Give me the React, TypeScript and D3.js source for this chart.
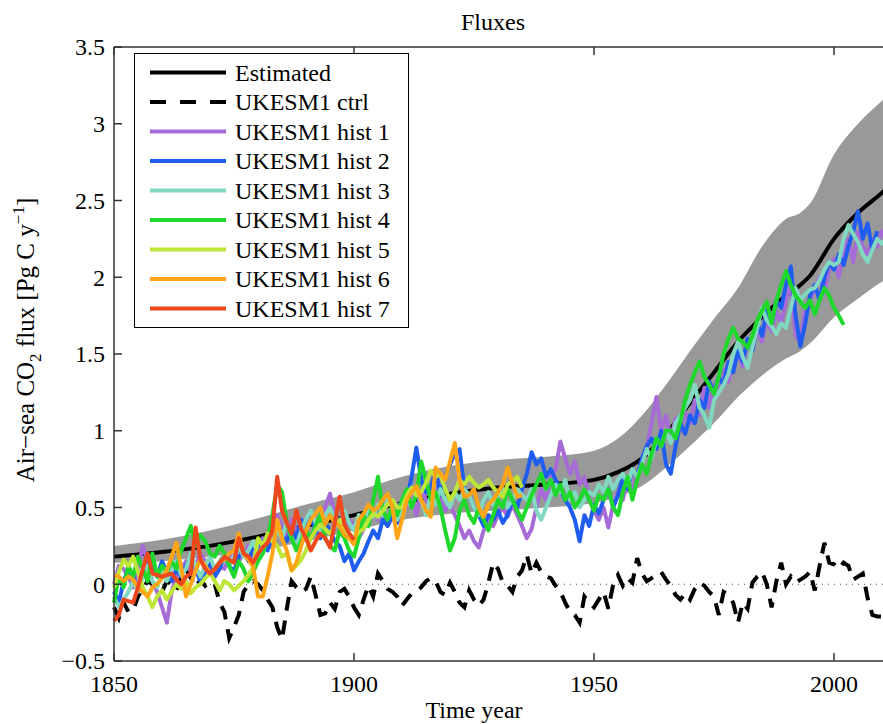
import React, { useRef, useEffect } from "react";
import * as d3 from "d3";

// smooth "Estimated" curve and its uncertainty band
const estYears = [1850, 1860, 1870, 1880, 1890, 1900, 1910, 1920, 1930, 1940, 1950, 1955, 1960, 1965, 1970, 1975, 1980, 1985, 1990, 1993, 1995, 2000, 2005, 2010, 2015];
const estMean = [0.18, 0.21, 0.25, 0.31, 0.38, 0.45, 0.53, 0.59, 0.63, 0.65, 0.68, 0.73, 0.82, 0.98, 1.18, 1.38, 1.58, 1.74, 1.88, 1.95, 2.01, 2.25, 2.42, 2.55, 2.7];
const estLow = [0.14, 0.15, 0.18, 0.22, 0.28, 0.35, 0.42, 0.46, 0.48, 0.5, 0.53, 0.57, 0.64, 0.76, 0.9, 1.05, 1.22, 1.36, 1.47, 1.52, 1.57, 1.74, 1.86, 1.97, 2.05];
const estHigh = [0.25, 0.29, 0.35, 0.43, 0.52, 0.6, 0.7, 0.77, 0.81, 0.83, 0.87, 0.95, 1.1, 1.3, 1.52, 1.73, 1.93, 2.2, 2.38, 2.42, 2.48, 2.8, 3.0, 3.15, 3.3];

// annual series, all starting in 1850
const startYear = 1850;
const ctrl = [
  -0.15, -0.22, -0.12, -0.18, -0.17, -0.08, -0.03, 0.02, 0.0, -0.03,
  -0.05, 0.02, 0.0, -0.04, 0.05, 0.1, 0.04, -0.02, 0.03, -0.01,
  0.02, 0.0, -0.12, -0.18, -0.35, -0.28, -0.2, -0.05, 0.0, 0.02,
  0.0, -0.04, -0.1, -0.15, -0.28, -0.36, -0.16, 0.02, -0.02, -0.05,
  -0.03, 0.05, -0.07, -0.2, -0.19, -0.12, -0.16, -0.05, -0.03, -0.08,
  -0.15, -0.2, -0.1, -0.01, -0.08, 0.07, 0.02, -0.03, -0.05, -0.08,
  -0.14, -0.1, -0.06, -0.04, -0.02, 0.02, 0.04, 0.02, -0.05, -0.07,
  0.01, -0.05, -0.12, -0.15, -0.04, -0.1, -0.14, -0.1, 0.01, 0.14,
  0.1, 0.01, -0.01, -0.05, 0.05, 0.09, 0.19, 0.07, 0.14, 0.08,
  0.05, 0.04, -0.01, -0.05, -0.12, -0.18, -0.2, -0.25, -0.08, -0.12,
  -0.15, -0.1, -0.05, -0.16, 0.0, 0.06, -0.01, 0.04, 0.01, 0.17,
  0.07, 0.02, 0.04, 0.06, 0.08, 0.03, -0.01, -0.07, -0.1, -0.06,
  -0.1, -0.03, 0.01, -0.01, -0.05, -0.08, -0.2, -0.05, -0.07, -0.12,
  -0.25, -0.12, -0.16, 0.01, 0.05, 0.08, 0.0, -0.15, 0.02, 0.14,
  0.0, 0.05, 0.01, 0.03, 0.05, 0.08, -0.04, 0.12, 0.27, 0.14,
  0.13, 0.1, 0.14, 0.12, 0.03, 0.05, 0.07, -0.09, -0.2, -0.21,
  -0.21, -0.2,
];
const hist1 = [
  0.0, 0.12, 0.1, 0.05, -0.02, 0.1, 0.25, 0.15, 0.02, -0.05,
  -0.15, -0.25, -0.05, 0.05, 0.1, 0.15, 0.08, 0.12, 0.2, 0.15,
  0.1, 0.05, 0.12, 0.1, 0.18, 0.22, 0.15, 0.2, 0.25, 0.18,
  0.22, 0.3, 0.25, 0.35, 0.45, 0.38, 0.3, 0.42, 0.35, 0.3,
  0.38, 0.44, 0.36, 0.4, 0.5, 0.59, 0.45, 0.4, 0.35, 0.42,
  0.38, 0.3, 0.36, 0.45, 0.5, 0.42, 0.48, 0.38, 0.44, 0.52,
  0.48, 0.5, 0.58, 0.45, 0.62, 0.55, 0.5, 0.62, 0.55, 0.48,
  0.52, 0.45, 0.38, 0.3, 0.35, 0.28, 0.24, 0.35, 0.42, 0.38,
  0.45, 0.5, 0.44, 0.52, 0.45, 0.38, 0.3, 0.36, 0.5, 0.62,
  0.55, 0.7, 0.75, 0.93, 0.82, 0.72, 0.8, 0.65, 0.7, 0.55,
  0.48, 0.42, 0.5, 0.37, 0.52, 0.6, 0.55, 0.68, 0.6, 0.72,
  0.8, 0.9, 1.05, 1.22, 1.0, 1.1, 0.95, 1.08, 1.0, 1.12,
  1.05, 1.2, 1.1, 1.28, 1.15, 1.3, 1.25, 1.4, 1.32, 1.45,
  1.5, 1.42, 1.6, 1.55, 1.65, 1.58, 1.72, 1.65, 1.78, 1.7,
  1.85, 1.95, 1.62, 1.58, 1.8, 1.85, 1.92, 2.0, 1.9, 2.05,
  2.12, 2.0, 2.18, 2.25, 2.1, 2.3, 2.2, 2.15, 2.25, 2.2,
  2.3, 2.28,
];
const hist2 = [
  -0.05, -0.12, 0.02, 0.1, 0.05, -0.02, 0.08, 0.18, 0.12, 0.05,
  0.15, 0.08, 0.02, 0.1, 0.05, 0.12, 0.18, 0.1, 0.02, 0.08,
  0.15, 0.05, 0.1, 0.18, 0.12, 0.08, 0.18, 0.22, 0.15, 0.25,
  0.2, 0.28, 0.22, 0.3, 0.38, 0.32, 0.28, 0.36, 0.3, 0.42,
  0.38, 0.45, 0.35, 0.3, 0.4, 0.35, 0.28, 0.25, 0.15, 0.2,
  0.09, 0.15, 0.2, 0.28, 0.35, 0.3, 0.42, 0.38, 0.45, 0.4,
  0.48, 0.55, 0.7, 0.89, 0.68, 0.6, 0.62, 0.75, 0.58, 0.7,
  0.78, 0.85, 0.88, 0.62, 0.58, 0.5, 0.45, 0.38, 0.45, 0.42,
  0.48, 0.4, 0.45, 0.55, 0.5, 0.62, 0.72, 0.86, 0.78, 0.82,
  0.7, 0.75, 0.68, 0.62, 0.55, 0.5, 0.42, 0.28, 0.45, 0.38,
  0.52, 0.46, 0.55, 0.62, 0.5, 0.58, 0.7, 0.62, 0.75, 0.7,
  0.82, 0.9, 0.95, 0.88, 1.0, 0.78, 0.72, 0.9, 1.05, 0.98,
  1.1, 1.05, 1.2, 1.15, 1.32, 1.25, 1.35, 1.3, 1.45, 1.38,
  1.52, 1.45, 1.6, 1.52, 1.7, 1.62, 1.78, 1.7, 1.85, 1.8,
  1.95, 2.07, 1.75, 1.55, 1.7, 1.88, 1.95, 1.85, 2.0, 2.1,
  2.05, 2.15, 2.08, 2.2, 2.3, 2.43, 2.25, 2.35, 2.18, 2.3,
];
const hist3 = [
  -0.08, -0.15, -0.1, -0.05, 0.02, -0.05, 0.05, 0.12, 0.02, -0.02,
  0.08, 0.02, 0.1, 0.15, 0.06, 0.1, 0.2, 0.12, 0.05, 0.12,
  0.18, 0.1, 0.15, 0.2, 0.12, 0.18, 0.25, 0.18, 0.22, 0.28,
  0.2, 0.25, 0.32, 0.28, 0.35, 0.3, 0.4, 0.3, 0.25, 0.35,
  0.42, 0.48, 0.4, 0.35, 0.45, 0.5, 0.42, 0.38, 0.48, 0.4,
  0.35, 0.45, 0.4, 0.5, 0.44, 0.52, 0.45, 0.55, 0.5, 0.42,
  0.48, 0.55, 0.5, 0.6, 0.55, 0.45, 0.58, 0.52, 0.62, 0.55,
  0.5, 0.6, 0.55, 0.62, 0.58, 0.5, 0.45, 0.55, 0.6, 0.52,
  0.58, 0.62, 0.5, 0.55, 0.62, 0.58, 0.55, 0.62, 0.48, 0.42,
  0.5, 0.58, 0.65, 0.6, 0.68, 0.55, 0.6, 0.5, 0.55, 0.6,
  0.58, 0.65, 0.6, 0.7, 0.62, 0.68, 0.72, 0.65, 0.75, 0.7,
  0.78, 0.88, 0.82, 0.95, 0.9, 1.0, 0.92, 1.05, 1.1, 1.15,
  1.2, 1.3, 1.15, 1.1, 1.02, 1.2, 1.25, 1.3, 1.37, 1.5,
  1.58, 1.48, 1.41, 1.55, 1.67, 1.8, 1.72, 1.68, 1.63, 1.7,
  1.67, 1.8, 1.93, 1.85, 1.89, 1.92, 1.93, 1.98, 2.05, 2.1,
  2.08, 2.1, 2.25, 2.34, 2.28, 2.23, 2.15, 2.1, 2.18, 2.25,
  2.22, 2.25,
];
const hist4 = [
  -0.12, 0.05, -0.02, 0.12, 0.05, 0.18, 0.1, 0.02, 0.2, 0.05,
  0.12, 0.08, 0.15, 0.1, 0.22, 0.3, 0.38, 0.25, 0.32, 0.28,
  0.2, 0.18, 0.25, 0.2, 0.12, 0.05, 0.15, 0.1, 0.02, 0.08,
  0.15, 0.2, 0.3, 0.45, 0.65, 0.6, 0.4, 0.3, 0.22, 0.28,
  0.35, 0.3, 0.38, 0.45, 0.3, 0.25, 0.22, 0.35, 0.3, 0.22,
  0.18, 0.3, 0.45, 0.38, 0.55, 0.7, 0.48, 0.42, 0.5, 0.45,
  0.55, 0.62, 0.5, 0.58, 0.8, 0.68, 0.55, 0.6, 0.5, 0.35,
  0.22, 0.3, 0.48, 0.55, 0.45, 0.4, 0.5, 0.42, 0.35, 0.45,
  0.55, 0.5, 0.62, 0.55, 0.48, 0.42, 0.5, 0.58, 0.65, 0.72,
  0.62, 0.68, 0.58, 0.65, 0.55, 0.6, 0.5, 0.55, 0.62, 0.55,
  0.48, 0.58, 0.55, 0.62, 0.5, 0.45, 0.6, 0.7, 0.55, 0.68,
  0.78, 0.72, 0.85, 0.95, 0.9, 1.0, 1.0, 0.95, 1.06, 1.2,
  1.3, 1.38, 1.45, 1.35, 1.3, 1.24, 1.35, 1.5, 1.6, 1.67,
  1.6, 1.58, 1.54, 1.62, 1.72, 1.78, 1.84, 1.7, 1.85, 1.95,
  2.04, 1.95, 1.88, 1.84, 1.8, 1.85, 1.76, 1.85, 1.93, 1.88,
  1.8, 1.75, 1.69,
];
const hist5 = [
  -0.02, 0.08, 0.16, 0.12, 0.18, 0.08, -0.02, -0.08, -0.15, -0.08,
  -0.04, -0.1, -0.05, 0.0, -0.03, 0.02, -0.06, -0.02, 0.0, 0.04,
  0.07, 0.02, -0.04, 0.02, 0.0, -0.04, -0.01, 0.02, 0.06, 0.11,
  0.3, 0.25, 0.33, 0.28, 0.25, 0.18, 0.2, 0.09, 0.12, 0.16,
  0.22, 0.3, 0.35, 0.39, 0.36, 0.33, 0.38, 0.42, 0.36, 0.33,
  0.3, 0.34, 0.36, 0.42, 0.46, 0.44, 0.48, 0.52, 0.55, 0.5,
  0.5, 0.58, 0.63, 0.58, 0.6, 0.66, 0.74, 0.7, 0.72, 0.62,
  0.55, 0.6, 0.68, 0.65, 0.7, 0.66, 0.63, 0.65, 0.68, 0.63,
  0.6, 0.57, 0.65, 0.67, 0.7, 0.63,
];
const hist6 = [
  0.06, 0.05, 0.02, 0.05, 0.03, -0.02, -0.05, -0.08, -0.02, 0.0,
  0.04, 0.09, 0.18, 0.27, 0.11, -0.08, 0.0, 0.09, 0.16, 0.12,
  0.07, 0.1, 0.14, 0.16, 0.2, 0.22, 0.33, 0.2, 0.16, 0.11,
  -0.08, -0.08, 0.05, 0.2, 0.42, 0.3, 0.22, 0.09, 0.14, 0.25,
  0.35, 0.42, 0.46, 0.5, 0.39, 0.45, 0.4, 0.38, 0.32, 0.3,
  0.26, 0.42, 0.46, 0.52, 0.48, 0.5, 0.55, 0.59, 0.5, 0.3,
  0.42, 0.55, 0.6, 0.64, 0.55, 0.48, 0.44, 0.76, 0.72, 0.68,
  0.8, 0.92, 0.68, 0.57, 0.58, 0.62, 0.5, 0.44, 0.52, 0.55,
  0.6, 0.65, 0.76, 0.66, 0.57, 0.58,
];
const hist7 = [
  -0.24, -0.2, -0.1, -0.11, -0.12, -0.02, 0.1, 0.2, 0.07, 0.06,
  0.05, 0.06, 0.07, 0.03, 0.0, 0.05, 0.07, 0.37, 0.16, 0.1,
  0.07, 0.1, 0.14, 0.18, 0.16, 0.14, 0.3, 0.2, 0.18, 0.14,
  0.2, 0.24, 0.27, 0.35, 0.7, 0.48, 0.4, 0.33, 0.48, 0.36,
  0.3, 0.22, 0.28, 0.33, 0.3, 0.24, 0.4, 0.57, 0.39, 0.33,
  0.29,
];

const seriesNames = ["Estimated", "UKESM1 ctrl", "UKESM1 hist 1", "UKESM1 hist 2", "UKESM1 hist 3", "UKESM1 hist 4", "UKESM1 hist 5", "UKESM1 hist 6", "UKESM1 hist 7"];
const histColors = ["#a66bd6", "#1f5cf0", "#80d9c0", "#1ed82c", "#bde636", "#ffa516", "#f0481e"];
const histData = [hist1, hist2, hist3, hist4, hist5, hist6, hist7];

const yTicks = [-0.5, 0, 0.5, 1, 1.5, 2, 2.5, 3, 3.5];
const xTicks = [1850, 1900, 1950, 2000];

const FONT = "'Liberation Serif', 'Times New Roman', serif";

const App = () => {
  const ref = useRef<HTMLDivElement>(null);

  useEffect(() => {
    const container = ref.current;
    if (!container) return;
    d3.select(container).selectAll("*").remove();
    const width = 883;
    const height = 724;

    const x = d3.scaleLinear().domain([1850, 2000]).range([114, 834]);
    const y = d3.scaleLinear().domain([-0.5, 3.5]).range([661, 47]);
    const xEnd = x(2015);

    const svg = d3
      .select(container)
      .append("svg")
      .attr("width", width)
      .attr("height", height)
      .style("display", "block")
      .style("font-family", FONT);

    svg.append("rect").attr("width", width).attr("height", height).attr("fill", "#fff");

    // uncertainty band
    const band = d3
      .area<number>()
      .x((d, i) => x(estYears[i]))
      .y0((d, i) => y(estLow[i]))
      .y1((d, i) => y(estHigh[i]))
      .curve(d3.curveMonotoneX);
    svg.append("path").attr("d", band(estYears)).attr("fill", "#999999");

    // zero line
    svg
      .append("line")
      .attr("x1", x(1850))
      .attr("x2", xEnd)
      .attr("y1", y(0))
      .attr("y2", y(0))
      .attr("stroke", "#444")
      .attr("stroke-width", 1)
      .attr("stroke-dasharray", "1 5");

    // estimated mean
    const meanLine = d3
      .line<number>()
      .x((d, i) => x(estYears[i]))
      .y((d) => y(d))
      .curve(d3.curveMonotoneX);
    svg
      .append("path")
      .attr("d", meanLine(estMean))
      .attr("fill", "none")
      .attr("stroke", "#000")
      .attr("stroke-width", 4);

    const annual = d3
      .line<number>()
      .x((d, i) => x(startYear + i))
      .y((d) => y(d));

    svg
      .append("path")
      .attr("d", annual(ctrl))
      .attr("fill", "none")
      .attr("stroke", "#000")
      .attr("stroke-width", 4)
      .attr("stroke-dasharray", "14 10");

    histData.forEach((vals, k) => {
      svg
        .append("path")
        .attr("d", annual(vals))
        .attr("fill", "none")
        .attr("stroke", histColors[k])
        .attr("stroke-width", 4)
        .attr("stroke-linejoin", "round");
    });

    // axes box
    const axisColor = "#333";
    const box = svg.append("g").attr("stroke", axisColor).attr("stroke-width", 1.5);
    box.append("line").attr("x1", x(1850)).attr("x2", x(1850)).attr("y1", y(-0.5)).attr("y2", y(3.5));
    box.append("line").attr("x1", x(1850)).attr("x2", xEnd).attr("y1", y(-0.5)).attr("y2", y(-0.5));
    box.append("line").attr("x1", x(1850)).attr("x2", xEnd).attr("y1", y(3.5)).attr("y2", y(3.5));

    yTicks.forEach((t) => {
      box.append("line").attr("x1", x(1850)).attr("x2", x(1850) + 8).attr("y1", y(t)).attr("y2", y(t));
      svg
        .append("text")
        .attr("x", x(1850) - 9)
        .attr("y", y(t))
        .attr("dy", "0.35em")
        .attr("text-anchor", "end")
        .style("font-size", "24px")
        .text(d3.format(".1~f")(t).replace("-", "\u2212"));
    });
    xTicks.forEach((t) => {
      box.append("line").attr("x1", x(t)).attr("x2", x(t)).attr("y1", y(-0.5)).attr("y2", y(-0.5) - 8);
      box.append("line").attr("x1", x(t)).attr("x2", x(t)).attr("y1", y(3.5)).attr("y2", y(3.5) + 8);
      svg
        .append("text")
        .attr("x", x(t))
        .attr("y", 692)
        .attr("text-anchor", "middle")
        .style("font-size", "24px")
        .text(t);
    });

    svg
      .append("text")
      .attr("x", 493)
      .attr("y", 30)
      .attr("text-anchor", "middle")
      .style("font-size", "24px")
      .text("Fluxes");

    svg
      .append("text")
      .attr("x", 474)
      .attr("y", 718)
      .attr("text-anchor", "middle")
      .style("font-size", "24px")
      .text("Time year");

    const yl = svg
      .append("text")
      .attr("transform", "translate(34,340) rotate(-90)")
      .attr("text-anchor", "middle")
      .style("font-size", "25px");
    yl.append("tspan").text("Air\u2212sea CO");
    yl.append("tspan").attr("dy", 7).style("font-size", "17px").text("2");
    yl.append("tspan").attr("dy", -7).text(" flux [Pg C y");
    yl.append("tspan").attr("dy", -10).style("font-size", "17px").text("\u22121");
    yl.append("tspan").attr("dy", 10).text("]");

    // legend
    const lg = svg.append("g");
    lg.append("rect")
      .attr("x", 134.5)
      .attr("y", 53.5)
      .attr("width", 274)
      .attr("height", 274)
      .attr("fill", "#fff")
      .attr("stroke", "#000")
      .attr("stroke-width", 1);
    const legendColors = ["#000", "#000", ...histColors];
    seriesNames.forEach((name, i) => {
      const ly = 72.5 + i * 29.5;
      lg.append("line")
        .attr("x1", 150)
        .attr("x2", 226)
        .attr("y1", ly)
        .attr("y2", ly)
        .attr("stroke", legendColors[i])
        .attr("stroke-width", 4)
        .attr("stroke-dasharray", i === 1 ? "16 14" : null);
      lg.append("text")
        .attr("x", 235)
        .attr("y", ly)
        .attr("dy", "0.35em")
        .style("font-size", "24px")
        .text(name);
    });
  }, []);

  return <div ref={ref} style={{ position: "absolute", left: 0, top: 0, width: 883, height: 724, overflow: "hidden" }} />;
};

export default App;
